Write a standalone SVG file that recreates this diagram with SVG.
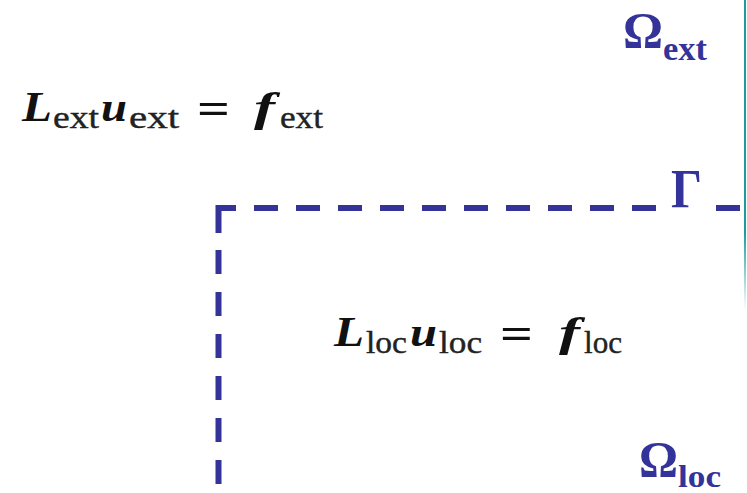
<svg xmlns="http://www.w3.org/2000/svg" width="747" height="493" viewBox="0 0 747 493">
<defs>
<style>
.eqm{font-family:"Liberation Serif",serif;font-weight:bold;font-style:italic;font-size:43px;fill:#111}
.eqs{font-family:"Liberation Serif",serif;font-size:31px;fill:#222;stroke:#222;stroke-width:0.4}
.eqo{font-family:"Liberation Serif",serif;font-weight:bold;font-size:44px;fill:#111}
.om{font-family:"Liberation Serif",serif;font-weight:bold;font-size:50px;fill:#333399}
.oms{font-family:"Liberation Serif",serif;font-weight:bold;font-size:34px;fill:#333399}
.gam{font-family:"Liberation Serif",serif;font-weight:bold;font-size:55px;fill:#333399}
.bd{fill:none;stroke:#333399;stroke-width:6}
.dash{stroke-dasharray:24 18}
</style>
<linearGradient id="tealfade" x1="0" y1="0" x2="0" y2="1">
<stop offset="0" stop-color="#1f9a9a"/>
<stop offset="0.75" stop-color="#1f9a9a"/>
<stop offset="1" stop-color="#1f9a9a" stop-opacity="0"/>
</linearGradient>
</defs>
<rect width="747" height="493" fill="#ffffff"/>
<rect x="744" y="0" width="2" height="310" fill="url(#tealfade)"/>
<g id="connectors">
<path class="bd" d="M218.5,233 V208 H236"/>
<path class="bd dash" d="M254,208 H656"/>
<path class="bd" d="M716,208 H740"/>
<path class="bd dash" d="M218.5,250 V493"/>
</g>
<g id="omega-ext">
<text class="om" x="623" y="47" textLength="40" lengthAdjust="spacingAndGlyphs">Ω</text>
<text class="oms" x="663" y="60" textLength="44" lengthAdjust="spacingAndGlyphs">ext</text>
</g>
<g id="omega-loc">
<text class="om" x="639" y="476" textLength="39" lengthAdjust="spacingAndGlyphs">Ω</text>
<text class="oms" x="678" y="487" style="font-size:32px" textLength="43" lengthAdjust="spacingAndGlyphs">loc</text>
</g>
<g id="gamma">
<text class="gam" x="671" y="207" textLength="31" lengthAdjust="spacingAndGlyphs">Γ</text>
</g>
<g id="eq-ext">
<text class="eqm" x="22" y="121" textLength="30" lengthAdjust="spacingAndGlyphs">L</text>
<text class="eqs" x="53" y="128" textLength="46" lengthAdjust="spacingAndGlyphs">ext</text>
<text class="eqm" x="101" y="121" textLength="26" lengthAdjust="spacingAndGlyphs">u</text>
<text class="eqs" x="129" y="128" textLength="50" lengthAdjust="spacingAndGlyphs">ext</text>
<text class="eqo" x="197" y="123" textLength="33" lengthAdjust="spacingAndGlyphs">=</text>
<text class="eqm" x="254" y="121" textLength="21" lengthAdjust="spacingAndGlyphs">f</text>
<text class="eqs" x="280" y="128" textLength="43" lengthAdjust="spacingAndGlyphs">ext</text>
</g>
<g id="eq-loc">
<text class="eqm" x="334" y="346" textLength="30" lengthAdjust="spacingAndGlyphs">L</text>
<text class="eqs" x="366" y="353" textLength="41" lengthAdjust="spacingAndGlyphs">loc</text>
<text class="eqm" x="410" y="346" textLength="27" lengthAdjust="spacingAndGlyphs">u</text>
<text class="eqs" x="439" y="353" textLength="43" lengthAdjust="spacingAndGlyphs">loc</text>
<text class="eqo" x="500" y="348" textLength="33" lengthAdjust="spacingAndGlyphs">=</text>
<text class="eqm" x="559" y="346" textLength="21" lengthAdjust="spacingAndGlyphs">f</text>
<text class="eqs" x="584" y="353" textLength="38" lengthAdjust="spacingAndGlyphs">loc</text>
</g>
</svg>
